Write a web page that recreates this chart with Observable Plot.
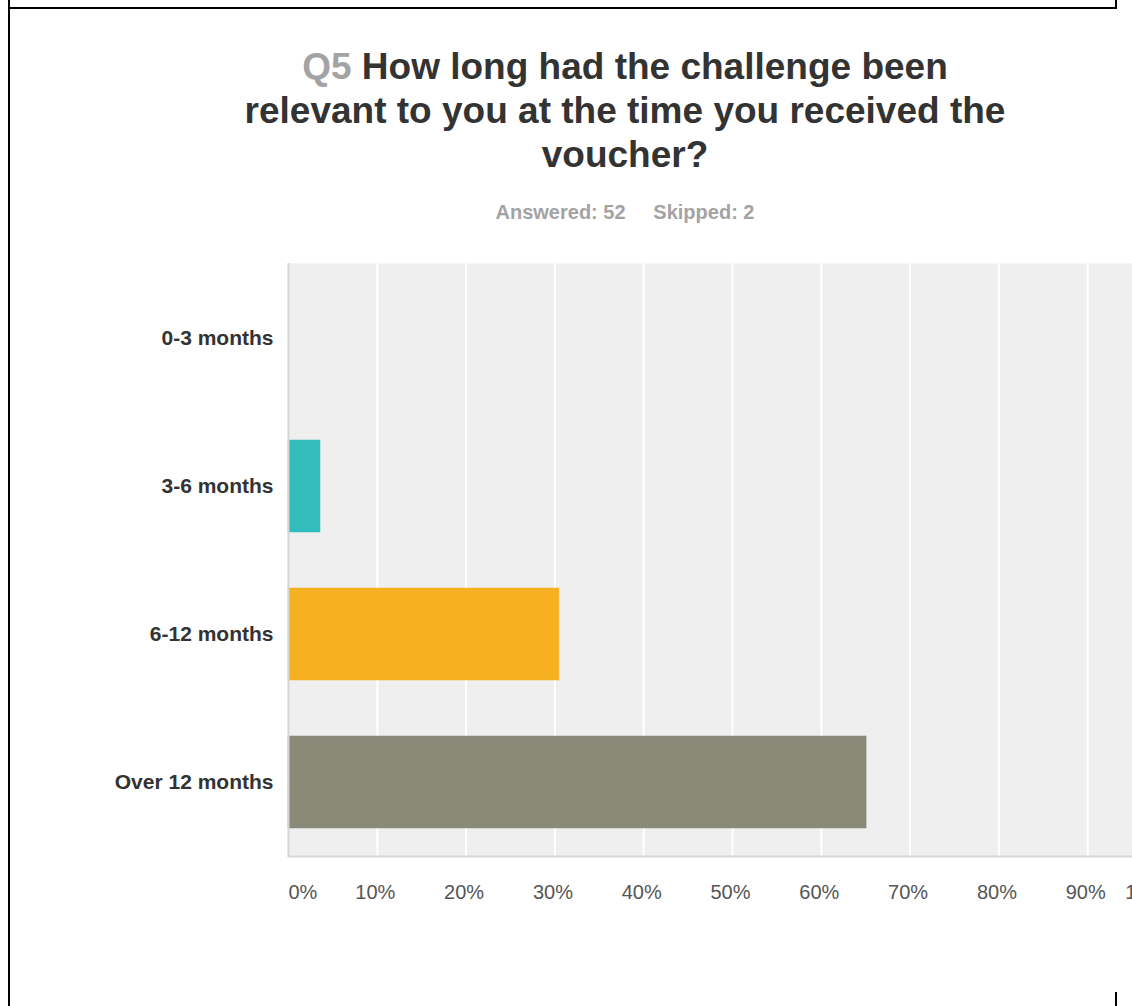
<!DOCTYPE html>
<html>
<head>
<meta charset="utf-8">
<script src="https://cdn.jsdelivr.net/npm/d3@7"></script>
<script src="https://cdn.jsdelivr.net/npm/@observablehq/plot@0.6"></script>
<style>
  html, body { margin: 0; padding: 0; background: #fff; }
  body { width: 1132px; height: 1006px; overflow: hidden; position: relative; font-family: "Liberation Sans", Arial, sans-serif; }
  .line { position: absolute; background: #000; }
  #title { position: absolute; left: 125px; width: 1000px; top: 45px; text-align: center; font-size: 37px; font-weight: bold; line-height: 44px; color: #333; }
  #title .q { color: #a3a3a3; }
  #subtitle { position: absolute; left: 325px; width: 600px; top: 201px; text-align: center; font-size: 20px; font-weight: bold; color: #a3a3a3; }
  #chart { position: absolute; left: 0; top: 230px; width: 1236px; }
  #chart svg { max-width: none !important; }
</style>
</head>
<body>
<div class="line" style="left:8px;top:0;width:2px;height:1006px"></div>
<div class="line" style="left:8px;top:7px;width:1109px;height:2px"></div>
<div class="line" style="left:1115px;top:0;width:2px;height:9px"></div>
<div class="line" style="left:1115px;top:992px;width:2px;height:14px"></div>
<div id="title"><span class="q">Q5</span> How long had the challenge been<br>relevant to you at the time you received the<br>voucher?</div>
<div id="subtitle">Answered: 52&nbsp;&nbsp;&nbsp;&nbsp;&nbsp;Skipped: 2</div>
<div id="chart"></div>
<script>
const categories = ["0-3 months", "3-6 months", "6-12 months", "Over 12 months"];
const percents = [0, 3.6, 30.5, 65.1];
const barColors = ["#65a0b9", "#33bcbc", "#f6b020", "#898a78"];
const xTicks = [0, 10, 20, 30, 40, 50, 60, 70, 80, 90, 100];
const xTickLabels = ["0%", "10%", "20%", "30%", "40%", "50%", "60%", "70%", "80%", "90%", "100%"];

const data = categories.map((c, i) => ({category: c, value: percents[i], color: barColors[i]}));
const fmt = d => xTickLabels[xTicks.indexOf(d)];
const axisCommon = {tickSize: 0, tickPadding: 28, tickFormat: fmt, label: null, fontSize: 20, fill: "#555"};

const chart = Plot.plot({
  width: 1236,
  height: 706,
  marginLeft: 288,
  marginRight: 60,
  marginTop: 33,
  marginBottom: 80,
  style: {fontFamily: "Liberation Sans, Arial, sans-serif", background: "transparent", overflow: "visible", maxWidth: "none"},
  x: {domain: [0, 100]},
  y: {domain: categories, paddingInner: 0.38, paddingOuter: 0.19},
  color: {type: "identity"},
  marks: [
    Plot.frame({fill: "#efefef", stroke: null}),
    Plot.gridX(xTicks, {stroke: "#fff", strokeOpacity: 1, strokeWidth: 2}),
    Plot.barX(data, {x: "value", y: "category", fill: "color", stroke: "color", strokeOpacity: 0.5}),
    Plot.ruleX([0], {stroke: "#d4d4d4", strokeWidth: 2}),
    Plot.frame({anchor: "bottom", stroke: "#d8d8d8", strokeWidth: 2}),
    Plot.axisY({tickSize: 0, tickPadding: 15, label: null, fontSize: 21, fontWeight: "bold", fill: "#333"}),
    Plot.axisX(xTicks.slice(0, 1), {...axisCommon, textAnchor: "start"}),
    Plot.axisX(xTicks.slice(1, -1), {...axisCommon, textAnchor: "middle", dx: -2}),
    Plot.axisX(xTicks.slice(-1), {...axisCommon, textAnchor: "end"})
  ]
});
document.getElementById("chart").appendChild(chart);
</script>
</body>
</html>
